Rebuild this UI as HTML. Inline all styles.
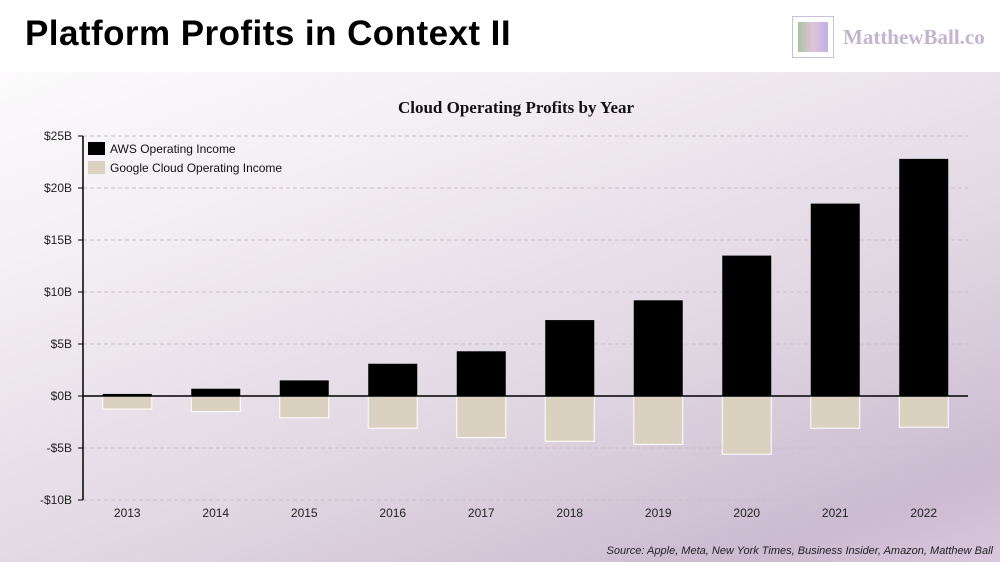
<!DOCTYPE html>
<html><head><meta charset="utf-8"><style>
body{margin:0;width:1000px;height:562px;overflow:hidden;font-family:"Liberation Sans",sans-serif;}
#bg{position:absolute;left:0;top:0;width:1000px;height:562px;background:linear-gradient(160deg,#ffffff 0%,#f3eff3 30%,#e0d6e2 65%,#cbbad0 90%,#d9c7de 100%);}
#hdr{position:absolute;left:0;top:0;width:1000px;height:72px;background:#fff;}
</style></head><body>
<div id="bg"></div>
<div id="hdr"></div>
<div style="position:absolute;left:25px;top:14px;font-size:35px;font-weight:bold;color:#000;letter-spacing:0.45px">Platform Profits in Context II</div>
<div style="position:absolute;left:790px;top:14px;width:46px;height:46px;">
<div style="position:absolute;left:2px;top:2px;width:40px;height:40px;border:1px solid #c8c0e0"></div>
<div style="position:absolute;left:8px;top:8px;width:30px;height:30px;background:linear-gradient(90deg,#a8c4a0,#e0c4d8,#c0b0e8)"></div></div>
<div style="position:absolute;left:843px;top:25px;font-size:21px;font-family:'Liberation Serif',serif;font-weight:bold;color:#c5b4d0">MatthewBall.co</div>
<svg id="chart" width="1000" height="562" style="position:absolute;left:0;top:0"></svg>
<script>
const years=["2013","2014","2015","2016","2017","2018","2019","2020","2021","2022"];
const aws=[0.2,0.7,1.5,3.1,4.3,7.3,9.2,13.5,18.5,22.8];
const google=[-1.25,-1.5,-2.1,-3.1,-4.0,-4.35,-4.65,-5.6,-3.1,-3.0];
const ticks=[25,20,15,10,5,0,-5,-10];
const tickLabels=["$25B","$20B","$15B","$10B","$5B","$0B","-$5B","-$10B"];
const NS="http://www.w3.org/2000/svg";
const svg=document.getElementById('chart');
const x0=83,x1=968,bw=(x1-x0)/years.length;
const y=v=>396-v*10.4;
const xc=i=>x0+(i+0.5)*bw;
function mk(t,a){const e=document.createElementNS(NS,t);for(const k in a)e.setAttribute(k,a[k]);svg.appendChild(e);return e;}
let t=mk('text',{x:516,y:113,'text-anchor':'middle','font-size':17,'font-family':'Liberation Serif,serif','font-weight':'bold',fill:'#111'});t.textContent="Cloud Operating Profits by Year";

ticks.forEach((v,i)=>{
 const g=mk('line',{x1:x0,x2:x1,y1:y(v),y2:y(v),stroke:'#c8c0c8','stroke-dasharray':'4,3'});
 
 mk('line',{x1:x0-5,x2:x0,y1:y(v),y2:y(v),stroke:'#000'});
 const l=mk('text',{x:x0-11,y:y(v)+4,'text-anchor':'end','font-size':12,fill:'#222'});l.textContent=tickLabels[i];
 
});
years.forEach((yr,i)=>{
 const a=mk('rect',{x:xc(i)-24.5,y:y(aws[i]),width:49,height:y(0)-y(aws[i]),fill:'#000'});
 
 const g=mk('rect',{x:xc(i)-24.5,y:y(0),width:49,height:y(google[i])-y(0),fill:'#dbd1c0',stroke:'#fff','stroke-width':1});
 
 const l=mk('text',{x:xc(i),y:517,'text-anchor':'middle','font-size':12,fill:'#222'});l.textContent=yr;
 
});
const ax=mk('line',{x1:x0,x2:x0,y1:y(25),y2:y(-10),stroke:'#000','stroke-width':1.5});

const zl=mk('line',{x1:x0,x2:x1,y1:y(0),y2:y(0),stroke:'#000','stroke-width':1.5});

[["AWS Operating Income","#000",149],["Google Cloud Operating Income","#dbd1c0",168]].forEach(([n,c,yy],i)=>{
 const r=mk('rect',{x:88,y:yy-7,width:17,height:13,fill:c});
 
 const l=mk('text',{x:110,y:yy+4,'font-size':12,fill:'#111'});l.textContent=n;
 
});
const s=mk('text',{x:993,y:554,'text-anchor':'end','font-size':11,'font-style':'italic',fill:'#222'});
s.textContent="Source: Apple, Meta, New York Times, Business Insider, Amazon, Matthew Ball";

</script>
</body></html>
